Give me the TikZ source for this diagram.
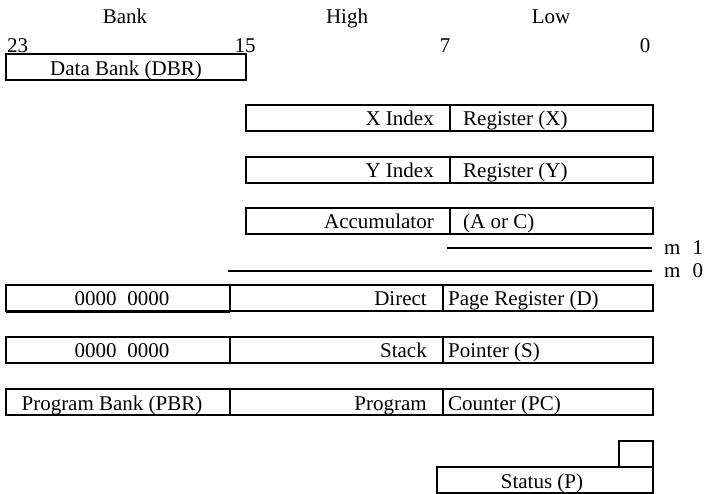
\documentclass[tikz,border=0pt]{standalone}
\usepackage{fontspec}
\setmainfont{Liberation Serif}
\begin{document}
\begin{tikzpicture}[x=1pt,y=-1pt,
  reg/.style={draw=black,line width=2pt},
  mline/.style={draw=black,line width=2pt},
  lbl/.style={font=\fontsize{21}{24}\selectfont,inner sep=0pt,anchor=base},
  lblr/.style={lbl,anchor=base east},
  lbll/.style={lbl,anchor=base west}]
\useasboundingbox (0,0) rectangle (707,494);
% header
\node[lbl] (bank) at (125,24) {Bank};
\node[lbl] (high) at (347,24) {High};
\node[lbl] (low) at (551,24) {Low};
\node[lbll] (n23) at (7,53) {23};
\node[lbl] (n15) at (245,53) {15};
\node[lbl] (n7) at (445,53) {7};
\node[lbl] (n0) at (645,53) {0};
% DBR
\draw[reg] (6,54) rectangle (246,80);
\node[lbl] (dbr) at (126,76) {Data Bank (DBR)};
% X
\draw[reg] (246,105) rectangle (653,131);
\draw[reg] (450,105) -- (450,131);
\node[lblr] (xhi) at (434,126) {X Index};
\node[lbll] (xlo) at (463,126) {Register (X)};
% Y
\draw[reg] (246,157) rectangle (653,183);
\draw[reg] (450,157) -- (450,183);
\node[lblr] (yhi) at (434,178) {Y Index};
\node[lbll] (ylo) at (463,178) {Register (Y)};
% A
\draw[reg] (246,208) rectangle (653,234);
\draw[reg] (450,208) -- (450,234);
\node[lblr] (ahi) at (434,229) {Accumulator};
\node[lbll] (alo) at (463,229) {(A or C)};
% m lines
\coordinate (m1a) at (447,248);
\coordinate (m1b) at (652,248);
\draw[mline] (m1a) -- (m1b);
\node[lbll] (m1) at (664,255) {m\hspace{12pt}1};
\coordinate (m0a) at (228,271);
\coordinate (m0b) at (652,271);
\draw[mline] (m0a) -- (m0b);
\node[lbll] (m0) at (664,278) {m\hspace{12pt}0};
% D
\draw[reg] (6,285) rectangle (653,311);
\draw[reg] (230,285) -- (230,311);
\draw[reg] (443,285) -- (443,311);
\draw[line width=3pt] (6,311.5) -- (230,311.5);
\node[lbl] (dbank) at (122,306) {0000\hspace{11pt}0000};
\node[lblr] (dhi) at (427,306) {Direct};
\node[lbll] (dlo) at (448,306) {Page Register (D)};
% S
\draw[reg] (6,337) rectangle (653,363);
\draw[reg] (230,337) -- (230,363);
\draw[reg] (443,337) -- (443,363);
\node[lbl] (sbank) at (122,358) {0000\hspace{11pt}0000};
\node[lblr] (shi) at (427,358) {Stack};
\node[lbll] (slo) at (448,358) {Pointer (S)};
% PC
\draw[reg] (6,389) rectangle (653,415);
\draw[reg] (230,389) -- (230,415);
\draw[reg] (443,389) -- (443,415);
\node[lbl] (pbr) at (112,410) {Program Bank (PBR)};
\node[lblr] (phi) at (427,410) {Program};
\node[lbll] (plo) at (448,410) {Counter (PC)};
% Status
\draw[reg] (619,441) rectangle (653,467);
\draw[reg] (437,467) rectangle (653,493);
\node[lbl] (stat) at (542,488) {Status (P)};
\end{tikzpicture}
\end{document}
